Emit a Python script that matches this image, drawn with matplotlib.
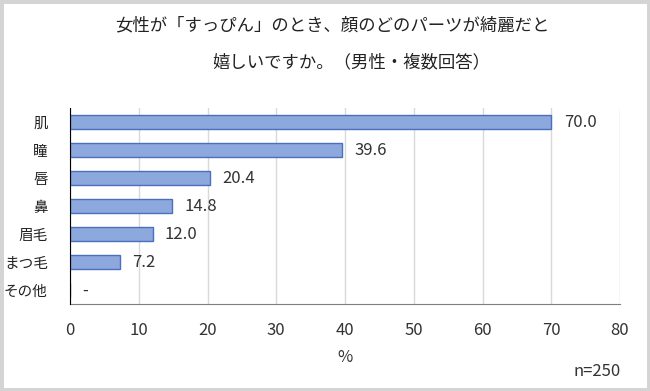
import matplotlib.pyplot as plt
from matplotlib.patches import Rectangle

plt.rcParams['font.family'] = ['Noto Sans CJK JP', 'DejaVu Sans']

# データ
parts = ['肌', '瞳', '唇', '鼻', '眉毛', 'まつ毛', 'その他']
values = [70.0, 39.6, 20.4, 14.8, 12.0, 7.2, 0.0]
labels = ['70.0', '39.6', '20.4', '14.8', '12.0', '7.2', '-']
x_ticks = [0, 10, 20, 30, 40, 50, 60, 70, 80]

fig = plt.figure(figsize=(6.5, 3.91), dpi=100)
ax = fig.add_axes([0.1077, 0.2225, 0.8462, 0.501])

y = list(range(len(parts)))
ax.barh(y, values, height=0.5, color='#8da8dc', edgecolor='#4a6fc1', linewidth=1.0, zorder=3)

for yi, v, lab in zip(y, values, labels):
    ax.text(v + 1.8, yi, lab, va='center', ha='left', fontsize=12, color='#333333')

ax.set_xlim(0, 80)
ax.set_ylim(6.5, -0.5)
ax.set_xticks(x_ticks)
ax.set_yticks(y)
ax.set_yticklabels(parts, fontsize=10.5)
ax.tick_params(axis='x', labelsize=12, length=0, pad=13, colors='#333333')
ax.tick_params(axis='y', length=0, pad=16, colors='#222222')
ax.grid(axis='x', color='#d9d9d9', linewidth=1, zorder=0)

for s in ['top', 'right']:
    ax.spines[s].set_visible(False)
ax.spines['left'].set_color('#000000')
ax.spines['bottom'].set_color('#7f7f7f')
ax.spines['left'].set_zorder(4)

ax.set_xlabel('%', fontsize=12, color='#333333', labelpad=7)

# タイトル
fig.text(0.512, 0.936, '女性が「すっぴん」のとき、顔のどのパーツが綺麗だと', ha='center', va='center',
         fontsize=12.5, color='#222222')
fig.text(0.54, 0.841, '嬉しいですか。（男性・複数回答）', ha='center', va='center',
         fontsize=12.5, color='#222222')

fig.text(0.955, 0.05, 'n=250', ha='right', va='center', fontsize=12, color='#333333')

# 外枠
fig.patches.append(Rectangle((0, 0), 1, 1, transform=fig.transFigure, fill=False,
                             edgecolor='#d4d4d4', linewidth=5))

fig.savefig('out.png', dpi=100)
